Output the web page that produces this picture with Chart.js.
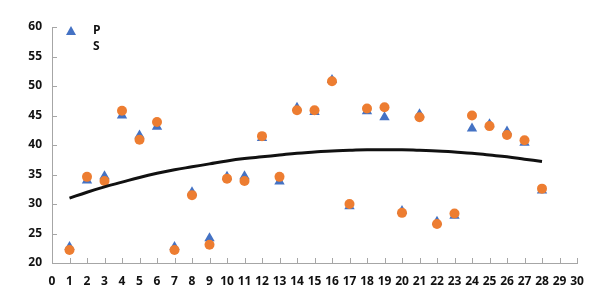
<!DOCTYPE html>
<html>
<head>
<meta charset="utf-8">
<script src="https://cdn.jsdelivr.net/npm/chart.js@4"></script>
<style>
  html, body { margin: 0; padding: 0; background: #fff; }
  #wrap { position: relative; width: 607px; height: 285px; }
  #legend { position: absolute; left: 64px; top: 22px; font: bold 12px "Open Sans", sans-serif; color: #111; }
  #legend div { height: 16px; line-height: 16px; position: relative; padding-left: 29px; }
  #legend .tri { position: absolute; left: 2px; top: 4px; width: 0; height: 0;
    border-left: 5px solid transparent; border-right: 5px solid transparent; border-bottom: 9px solid #4472C4; }
</style>
</head>
<body>
<div id="wrap">
  <canvas id="chart" width="607" height="285"></canvas>
  <div id="legend">
    <div><span class="tri"></span>P</div>
    <div>S</div>
  </div>
</div>
<script>
const days = [1, 2, 3, 4, 5, 6, 7, 8, 9, 10, 11, 12, 13, 14, 15, 16, 17, 18, 19, 20, 21, 22, 23, 24, 25, 26, 27, 28];
const pValues = [22.7, 34.0, 34.7, 45.0, 41.6, 43.1, 22.7, 32.0, 24.2, 34.6, 34.7, 41.2, 33.8, 46.3,
    45.6, 51.0, 29.6, 45.7, 44.7, 28.8, 45.2, 27.0, 28.0, 42.8, 43.5, 42.3, 40.4, 32.3];
const sValues = [22.2, 34.6, 33.9, 45.8, 40.9, 43.9, 22.2, 31.5, 23.1, 34.3, 33.9, 41.5, 34.6, 45.9,
    45.9, 50.8, 30.0, 46.2, 46.4, 28.5, 44.7, 26.6, 28.4, 45.0, 43.2, 41.7, 40.8, 32.6];
const trendValues = [31.0, 32.0, 32.9, 33.7, 34.5, 35.2, 35.8, 36.3, 36.8, 37.3, 37.7, 38.0, 38.3, 38.6,
    38.8, 39.0, 39.1, 39.2, 39.2, 39.2, 39.1, 39.0, 38.8, 38.6, 38.3, 38.0, 37.6, 37.2];

const toPoints = (vals) => vals.map((v, i) => ({ x: days[i], y: v }));

// tick marks drawn inside the plot area, like the original
const innerTicks = {
    id: 'innerTicks',
    afterDraw(chart) {
        const c = chart.ctx;
        const x = chart.scales.x, y = chart.scales.y;
        c.save();
        c.strokeStyle = '#a6a6a6';
        c.lineWidth = 1;
        c.beginPath();
        for (let v = 0; v <= 30; v++) {
            const px = Math.round(x.getPixelForValue(v)) + 0.5;
            c.moveTo(px, y.bottom);
            c.lineTo(px, y.bottom - 5);
        }
        for (let v = 20; v <= 60; v += 5) {
            const py = Math.round(y.getPixelForValue(v)) + 0.5;
            c.moveTo(x.left, py);
            c.lineTo(x.left + 5, py);
        }
        c.stroke();
        c.restore();
    }
};

new Chart(document.getElementById('chart'), {
    type: 'scatter',
    data: {
        datasets: [
            {
                label: 'Trend',
                type: 'line',
                data: toPoints(trendValues),
                borderColor: '#111',
                borderWidth: 3,
                pointRadius: 0,
                tension: 0.4,
                fill: false,
                order: 0
            },
            {
                label: 'S',
                data: toPoints(sValues),
                pointStyle: 'circle',
                pointRadius: 5,
                backgroundColor: '#ED7D31',
                borderColor: '#ED7D31',
                borderWidth: 0,
                order: 1
            },
            {
                label: 'P',
                data: toPoints(pValues),
                pointStyle: 'triangle',
                pointRadius: 6,
                backgroundColor: '#4472C4',
                borderColor: '#4472C4',
                borderWidth: 0,
                order: 2
            }
        ]
    },
    options: {
        responsive: false,
        animation: false,
        layout: { padding: { top: 27, right: 30, left: 0, bottom: 0 } },
        plugins: {
            legend: { display: false },
            tooltip: { enabled: false }
        },
        scales: {
            x: {
                type: 'linear',
                min: 0,
                max: 30,
                afterFit: (s) => { s.height = 22; },
                ticks: {
                    stepSize: 1,
                    padding: 11,
                    color: '#111',
                    font: { family: 'Open Sans', size: 12, weight: 'bold' },
                    maxRotation: 0,
                    autoSkip: false
                },
                grid: { display: false, drawTicks: false },
                border: { color: '#a6a6a6', width: 1 }
            },
            y: {
                min: 20,
                max: 60,
                afterFit: (s) => { s.width = 52; },
                ticks: {
                    stepSize: 5,
                    padding: 10,
                    color: '#111',
                    font: { family: 'Open Sans', size: 12, weight: 'bold' }
                },
                grid: { display: false, drawTicks: false },
                border: { color: '#a6a6a6', width: 1 }
            }
        }
    },
    plugins: [innerTicks]
});
</script>
</body>
</html>
